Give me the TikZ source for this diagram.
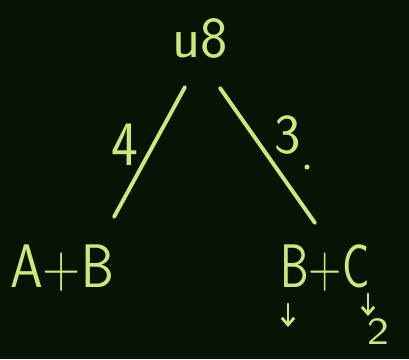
\documentclass[tikz,border=0pt]{standalone}
\usepackage{amsmath,amssymb}
\usepackage{tikz}
\usetikzlibrary{positioning,arrows.meta,calc}
\definecolor{board}{RGB}{6,20,6}
\definecolor{chalk}{RGB}{205,232,120}

\begin{document}
\begin{tikzpicture}[x=0.02cm,y=-0.02cm,
    chalk/.style={text=chalk,inner sep=0pt,font=\sffamily},
    stroke/.style={draw=chalk,line width=2.2pt,line cap=round},
    downmark/.style={draw=chalk,line width=1.6pt,line cap=round,-{Straight Barb[length=4pt,width=7pt]}}]
  \fill[board] (0,0) rectangle (409,359);
  \useasboundingbox (0,0) rectangle (409,359);
  % the sum and its two parts
  \node[chalk,font=\sffamily\fontsize{33}{33}\selectfont] (top) at (200,38) {u8};
  \node[chalk,xscale=0.85,font=\sffamily\fontsize{35}{35}\selectfont] (ab) at (62,268) {A+B};
  \node[chalk,xscale=0.74,font=\sffamily\fontsize{35}{35}\selectfont] (bc) at (325,268) {B+C};
  \coordinate (lt) at (185,87);  \coordinate (lb) at (114,217);
  \coordinate (rt) at (220,88);  \coordinate (rb) at (315,223);
  \draw[stroke] (lt) -- (lb);
  \draw[stroke] (rt) -- (rb);
  \node[chalk,xscale=0.9,font=\sffamily\fontsize{36}{36}\selectfont] (four) at (125,145) {4};
  \node[chalk,font=\sffamily\fontsize{32}{32}\selectfont] (three) at (288,135) {3};
  \fill[fill=chalk] (307,167) circle (2.5);
  % marks below B+C
  \coordinate (bt) at (288,304);  \coordinate (bb) at (288,327);
  \coordinate (ct) at (368,294);  \coordinate (cb) at (368,316);
  \draw[downmark] (bt) -- (bb);
  \draw[downmark] (ct) -- (cb);
  \node[chalk,xscale=1.2,font=\sffamily\fontsize{22}{22}\selectfont] (two) at (378,332) {2};
\end{tikzpicture}
\end{document}
